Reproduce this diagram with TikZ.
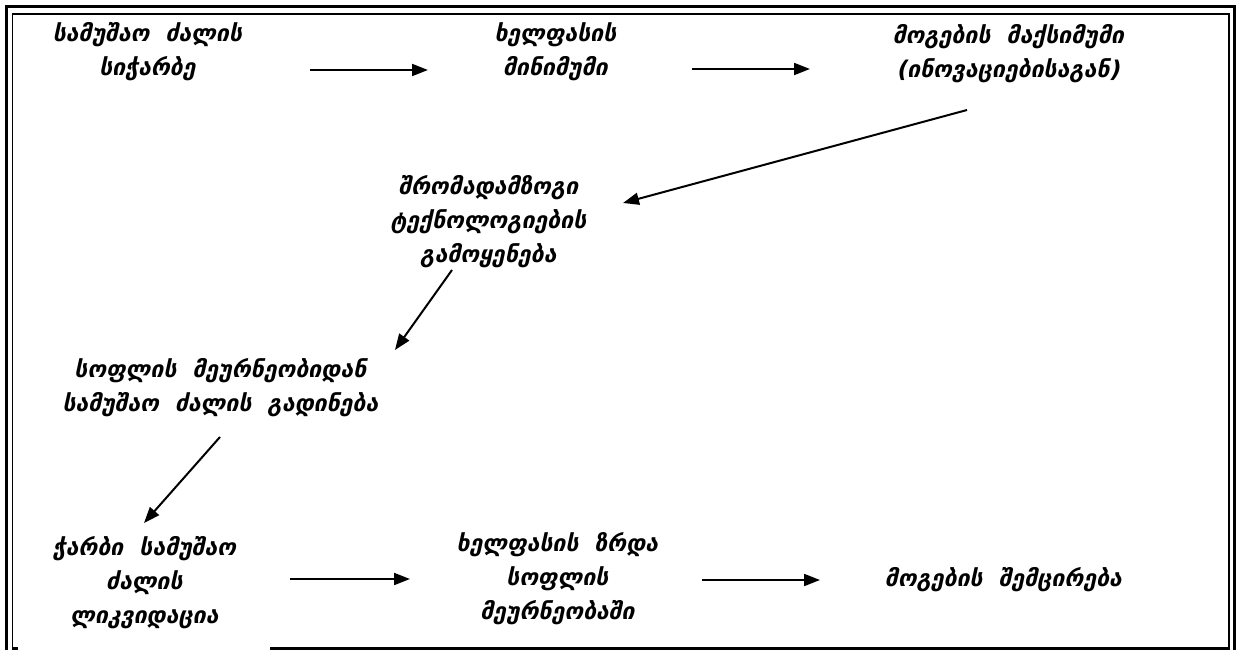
\documentclass[tikz,border=0pt]{standalone}
\usepackage{fontspec}
\newfontfamily\geo{DejaVu Sans Bold}[FakeSlant=0.22]
\usetikzlibrary{arrows.meta,calc}
\begin{document}
\begin{tikzpicture}[x=1pt,y=-1pt,
  lbl/.style={align=center,inner sep=0pt,font=\geo\fontsize{23}{34}\selectfont},
  flow/.style={line width=2pt,-{Triangle[length=16pt,width=12pt]}},
  outerframe/.style={line width=3pt},
  innerframe/.style={line width=1.5pt}]
\useasboundingbox (0,0) rectangle (1239,650);
\clip (0,0) rectangle (1239,650);
\fill[white] (0,0) rectangle (1239,650);
% frame
\draw[outerframe] (6,670) |- (1234,6.5) -- (1234,670);
\draw[innerframe] (12.5,648) |- (1229,14) -- (1229,648);
\draw[outerframe] (11.75,648) -- (18,648) (270,648) -- (1229.75,648);
% nodes
\node[lbl] (n1) at (147,52) {სამუშაო\ \ ძალის\\სიჭარბე};
\node[lbl] (n2) at (555,52) {ხელფასის\\მინიმუმი};
\node[lbl] (n3) at (1008,54) {მოგების\ \ მაქსიმუმი\\(ინოვაციებისაგან)};
\node[lbl] (n4) at (488,222) {შრომადამზოგი\\ტექნოლოგიების\\გამოყენება};
\node[lbl] (n5) at (220,388) {სოფლის\ \ მეურნეობიდან\\სამუშაო\ \ ძალის\ \ გადინება};
\node[lbl] (n6) at (144,583) {ჭარბი\ \ სამუშაო\\ძალის\\ლიკვიდაცია};
\node[lbl] (n7) at (557,579) {ხელფასის\ \ ზრდა\\სოფლის\\მეურნეობაში};
\node[lbl] (n8) at (1003,580) {მოგების\ \ შემცირება};
% arrows
\draw[flow] ($(n1)+(163,18)$) -- ($(n2)+(-127,18)$);
\draw[flow] ($(n2)+(137,17)$) -- ($(n3)+(-198,15)$);
\draw[flow] ($(n3)+(-41,56)$) -- ($(n4)+(135,-19)$);
\draw[flow] ($(n4)+(-36,48)$) -- ($(n5)+(175,-38)$);
\draw[flow] ($(n5)+(0,49)$) -- ($(n6)+(0,-60)$);
\draw[flow] ($(n6)+(146,-4)$) -- ($(n7)+(-147,0)$);
\draw[flow] ($(n7)+(145,1)$) -- ($(n8)+(-183,0)$);
\end{tikzpicture}
\end{document}
